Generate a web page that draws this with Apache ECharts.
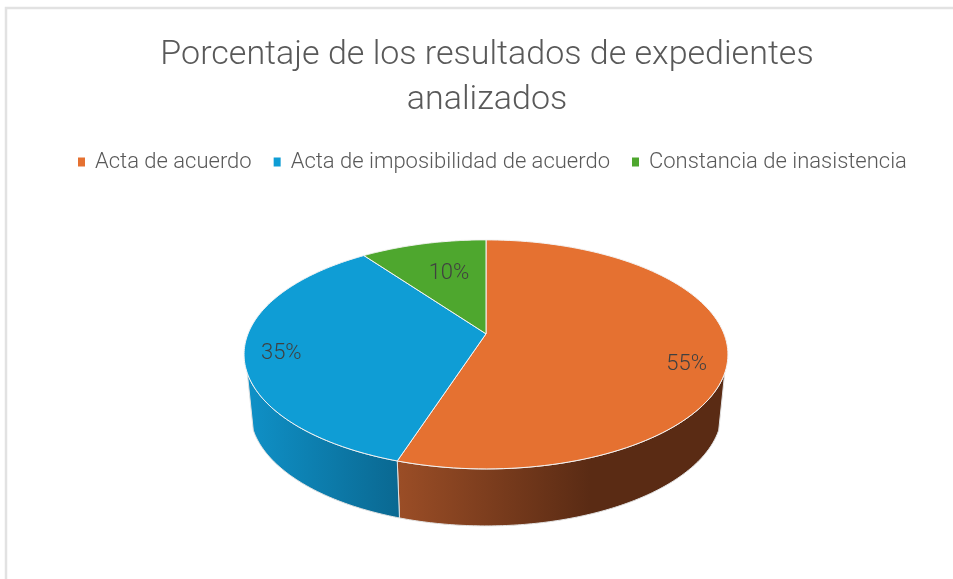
<!DOCTYPE html>
<html>
<head>
<meta charset="utf-8">
<style>
    html, body { margin: 0; padding: 0; background: #fff; }
    #chart { width: 953px; height: 579px; }
</style>
<script src="https://cdn.jsdelivr.net/npm/echarts@6/dist/echarts.min.js"></script>
</head>
<body>
<div id="chart"></div>
<script>
const titleText = 'Porcentaje de los resultados de expedientes\nanalizados'
const categories = ['Acta de acuerdo', 'Acta de imposibilidad de acuerdo', 'Constancia de inasistencia']
const values = [55, 35, 10]
const colors = ['#E57131', '#0F9DD5', '#4EA72E']
const wallStops = [
    ['#9A4D26', '#5A2B14'],
    ['#0F90C6', '#0A6891'],
    ['#3A7D22', '#2F661B']
]
const fontName = 'Roboto'

// disc geometry, perspective makes the near half bigger
const hubX = 486
const hubY = 333.8
const radiusX = 238
const radiusY = 110.8
const tilt = 0.18
const depth = 57
const bottomShrink = 0.975
// part of the rim that shows a wall
const wallFrom = 109.5 / 180 * Math.PI
const wallTo = 250.5 / 180 * Math.PI

const total = values.reduce((a, b) => a + b, 0)

function angleAt(index) {
    let sum = 0
    for (let i = 0; i < index; i++) sum += values[i]
    return sum / total * Math.PI * 2
}

function topPoint(theta, f) {
    const d = -Math.cos(theta) * f
    const w = 1 - tilt * d
    return [hubX + radiusX * f * Math.sin(theta) / w, hubY + radiusY * d / w]
}

function bottomPoint(theta) {
    const p = topPoint(theta, 1)
    return [hubX + (p[0] - hubX) * bottomShrink, p[1] + depth]
}

function arc(from, to, fn) {
    const steps = 120
    const pts = []
    for (let i = 0; i <= steps; i++) pts.push(fn(from + (to - from) * i / steps))
    return pts
}

const labelSpots = [
    {f: 0.85, dx: -4, dy: 16},
    {f: 0.85, dx: 0, dy: 5},
    {f: 0.6, dx: 3, dy: -3}
]

function renderSlice(params, api) {
    const i = params.seriesIndex
    const from = angleAt(i)
    const to = from + api.value(0) / total * Math.PI * 2
    const upper = arc(from, to, t => topPoint(t, 1))
    const mid = (from + to) / 2
    const spot = topPoint(mid, labelSpots[i].f)
    const children = [
        {
            type: 'polygon',
            z2: 10,
            shape: {points: [[hubX, hubY]].concat(upper)},
            style: {fill: colors[i], stroke: '#F4F4F4', lineWidth: 1}
        },
        {
            type: 'text',
            z2: 20,
            x: spot[0] + labelSpots[i].dx,
            y: spot[1] + labelSpots[i].dy,
            style: {
                text: api.value(0) + '%',
                fill: '#404040',
                font: '300 22px ' + fontName,
                align: 'center',
                verticalAlign: 'middle'
            }
        }
    ]
    const wallA = Math.max(from, wallFrom)
    const wallB = Math.min(to, wallTo)
    if (wallB > wallA) {
        const x0 = i === 0 ? 400 : 250
        const x1 = i === 0 ? 590 : 400
        children.unshift({
            type: 'polygon',
            z2: 1,
            shape: {
                points: arc(wallA, wallB, t => topPoint(t, 1))
                    .concat(arc(wallA, wallB, bottomPoint).reverse())
            },
            style: {
                fill: new echarts.graphic.LinearGradient(x0, 0, x1, 0, [
                    {offset: 0, color: wallStops[i][0]},
                    {offset: 1, color: wallStops[i][1]}
                ], true),
                stroke: '#E2E2E2',
                lineWidth: 1
            }
        })
    }
    return {type: 'group', children: children}
}

const chart = echarts.init(document.getElementById('chart'))
chart.setOption({
    animation: false,
    backgroundColor: '#fff',
    textStyle: {fontFamily: fontName},
    title: {
        text: titleText,
        left: 487,
        top: 33,
        padding: 0,
        textAlign: 'center',
        textStyle: {
            color: '#595959',
            fontSize: 34,
            fontWeight: 300,
            lineHeight: 45,
            fontFamily: fontName
        }
    },
    legend: {
        data: categories,
        left: 78,
        top: 151,
        padding: 0,
        icon: 'rect',
        itemWidth: 7,
        itemHeight: 9,
        itemGap: 22,
        textStyle: {
            color: '#595959',
            fontSize: 22,
            fontWeight: 300,
            padding: [0, 0, 0, 5],
            fontFamily: fontName
        }
    },
    graphic: [
        {
            type: 'polyline',
            shape: {points: [[6, 579], [6, 8], [953, 8]]},
            style: {fill: 'none', stroke: '#E2E2E2', lineWidth: 2.5}
        }
    ],
    series: categories.map((name, i) => ({
        type: 'custom',
        name: name,
        coordinateSystem: 'none',
        itemStyle: {color: colors[i]},
        renderItem: renderSlice,
        data: [[values[i]]]
    }))
})
window.addEventListener('resize', () => chart.resize())
</script>
</body>
</html>
